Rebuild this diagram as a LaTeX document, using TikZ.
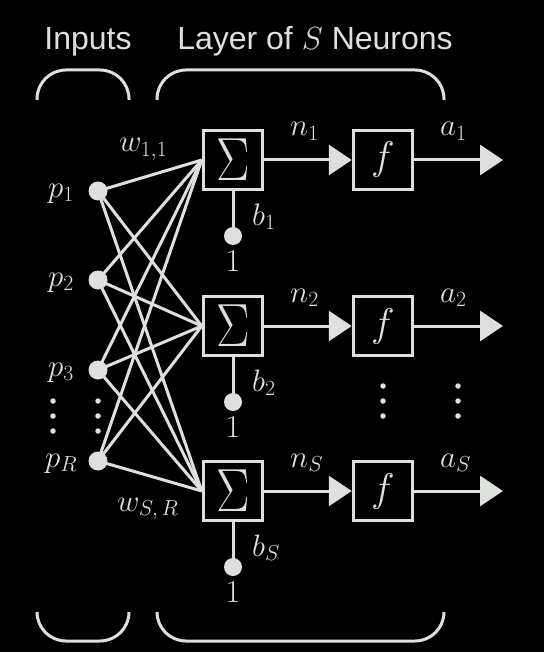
\RequirePackage{fix-cm}
\documentclass[tikz,border=0pt]{standalone}
\usepackage{fontspec}
\newfontfamily\sansf{Liberation Sans}
\usetikzlibrary{arrows.meta}
\definecolor{fg}{RGB}{222,224,222}
\begin{document}
\begin{tikzpicture}[x=1pt,y=-1pt,
  sumbox/.style={draw=fg,line width=3.5pt,minimum size=59pt,inner sep=0pt,text=fg,font=\fontsize{61}{61}\selectfont},
  fbox/.style={sumbox,font=\fontsize{40}{40}\selectfont},
  indot/.style={circle,fill=fg,minimum size=19pt,inner sep=0pt},
  biasdot/.style={circle,fill=fg,minimum size=18pt,inner sep=0pt},
  smalldot/.style={circle,fill=fg,minimum size=5.5pt,inner sep=0pt},
  wire/.style={draw=fg,line width=3pt},
  sig/.style={wire,-{Triangle[length=23pt,width=30pt]}},
  lab/.style={text=fg,inner sep=0pt,anchor=base west,font=\fontsize{31}{31}\selectfont},
  one/.style={text=fg,inner sep=0pt,anchor=base,font=\fontsize{32}{32}\selectfont},
  head/.style={text=fg,inner sep=0pt,anchor=base,font=\fontsize{32}{32}\selectfont\sansf},
  brace/.style={draw=fg,line width=3pt,rounded corners=29pt}
]
\fill[black] (0,0) rectangle (544,652);
\useasboundingbox (0,0) rectangle (544,652);

% headings
\node[head] (hin) at (88,50) {Inputs};
\node[head] (hlay) at (315,50) {Layer of $S$ Neurons};

% brackets
\draw[brace] (37,100) -- (37,70) -- (129,70) -- (129,100);
\draw[brace] (157,100) -- (157,70) -- (444,70) -- (444,100);
\draw[brace] (37,612) -- (37,641) -- (129,641) -- (129,612);
\draw[brace] (157,612) -- (157,641) -- (444,641) -- (444,612);

% input dots
\node[indot] (p1) at (98,191) {};
\node[indot] (p2) at (98,280) {};
\node[indot] (p3) at (98,370) {};
\node[indot] (pR) at (98,461) {};
\node[lab] (lp1) at (48,197) {$p_1$};
\node[lab] (lp2) at (48,286) {$p_2$};
\node[lab] (lp3) at (48,376) {$p_3$};
\node[lab] (lpR) at (45,467) {$p_R$};
\foreach \yy [count=\k] in {401,416,431}{
  \node[smalldot] (dl\k) at (53,\yy) {};
  \node[smalldot] (dr\k) at (98,\yy) {};
}

% neurons
\foreach \c/\yy in {1/160,2/326,S/491}{
  \node[sumbox] (s\c) at (233,\yy) {\scalebox{0.82}[1]{$\Sigma$}};
  \node[fbox] (f\c) at (383,\yy) {$f$};
  \coordinate (o\c) at (503,\yy);
  \node[biasdot] (b\c) at (233,\yy+76) {};
  \draw[wire] (s\c.south) -- (b\c.center);
  \draw[sig] (s\c.east) -- (f\c.west);
  \draw[sig] (f\c.east) -- (o\c);
}
\node[lab] (ln1) at (290,136) {$n_1$};
\node[lab] (ln2) at (290,302) {$n_2$};
\node[lab] (lnS) at (290,467) {$n_S$};
\node[lab] (la1) at (440,136) {$a_1$};
\node[lab] (la2) at (440,302) {$a_2$};
\node[lab] (laS) at (440,467) {$a_S$};
\node[lab] (lb1) at (252,225) {$b_1$};
\node[lab] (lb2) at (252,391) {$b_2$};
\node[lab] (lbS) at (252,556) {$b_S$};
\node[one] (one1) at (233,271) {1};
\node[one] (one2) at (233,437) {1};
\node[one] (oneS) at (233,602) {1};
\foreach \yy [count=\k] in {386,401,416}{
  \node[smalldot] (ef\k) at (383,\yy) {};
  \node[smalldot] (ea\k) at (458,\yy) {};
}

% weights
\foreach \i in {p1,p2,p3,pR}{
  \foreach \j in {s1,s2,sS}{
    \draw[wire] (\i.center) -- (\j.west);
  }
}
\node[lab] (w11) at (119,152) {$w_{1,1}$};
\node[lab] (wSR) at (117,511) {$w_{S,\,R}$};
\end{tikzpicture}
\end{document}
